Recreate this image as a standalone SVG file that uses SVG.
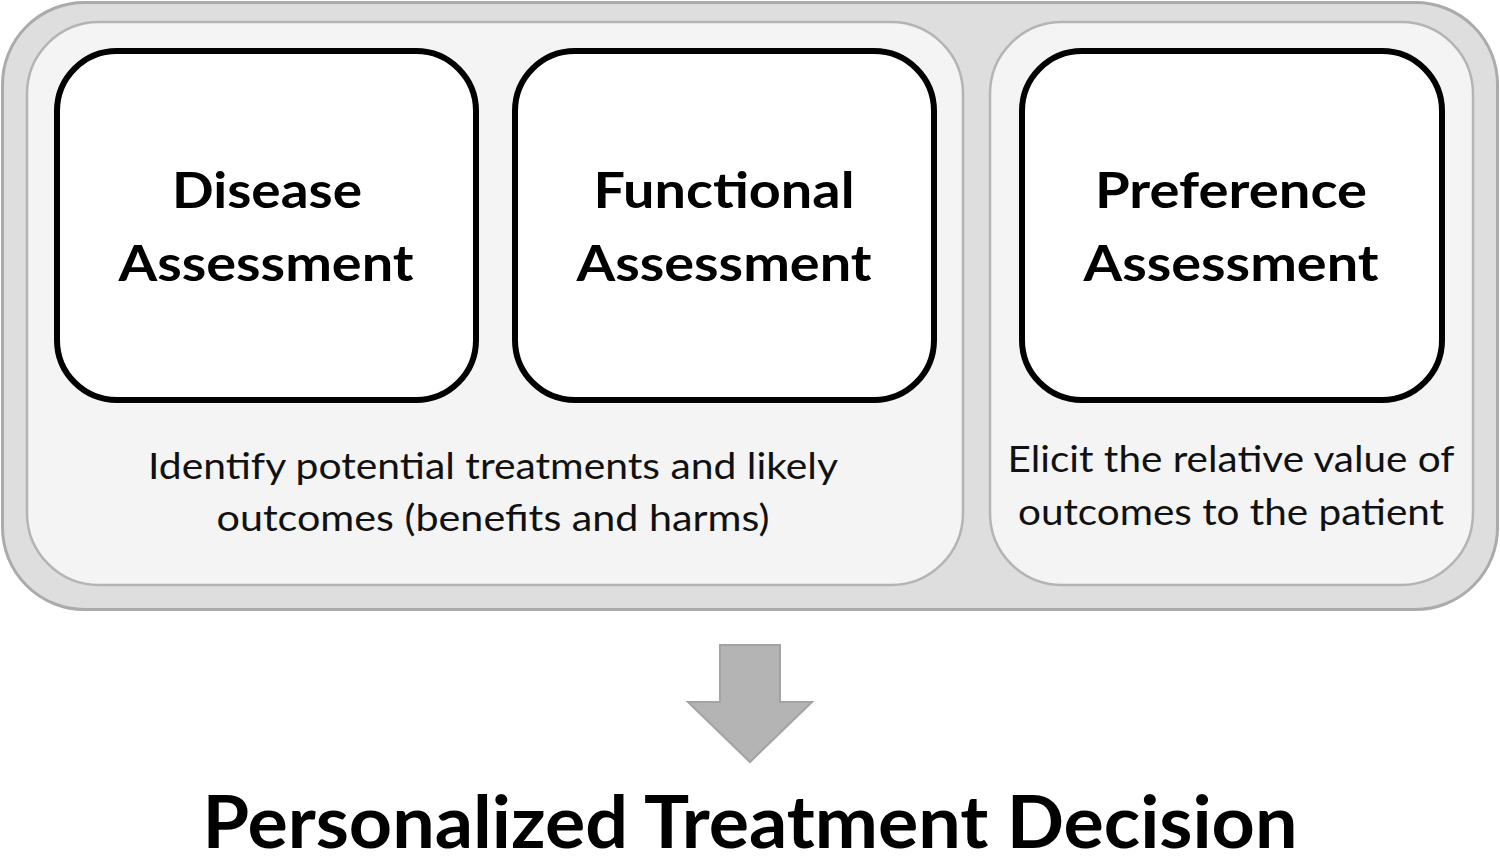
<svg xmlns="http://www.w3.org/2000/svg" width="1500" height="863" viewBox="0 0 1500 863">
<style>
.outer{fill:#dedede;stroke:#ababab;stroke-width:3}
.panel{fill:#f4f4f4;stroke:#b4b4b4;stroke-width:2.5}
.box{fill:#ffffff;stroke:#000;stroke-width:6}
.h{font-family:Lato,"Liberation Sans",sans-serif;font-weight:bold;font-size:50px;fill:#000;text-anchor:middle}
.d{font-family:Lato,"Liberation Sans",sans-serif;font-size:36px;fill:#111;text-anchor:middle}
.t{font-family:Lato,"Liberation Sans",sans-serif;font-weight:bold;font-size:72px;fill:#000;text-anchor:middle}
</style>
<rect width="1500" height="863" fill="#ffffff"/>
<g id="container">
<rect class="outer" x="2.5" y="2.5" width="1495" height="607" rx="82" ry="82"/>
<rect class="panel" x="27" y="22" width="936" height="563" rx="72" ry="72"/>
<rect class="panel" x="990" y="22" width="483" height="563" rx="72" ry="72"/>
</g>
<g id="disease">
<rect class="box" x="57" y="51" width="419" height="349" rx="60" ry="60"/>
<text class="h" x="267" y="208" textLength="190" lengthAdjust="spacingAndGlyphs">Disease</text>
<text class="h" x="266" y="281" textLength="295" lengthAdjust="spacingAndGlyphs">Assessment</text>
</g>
<g id="functional">
<rect class="box" x="515" y="51" width="419" height="349" rx="60" ry="60"/>
<text class="h" x="724" y="208" textLength="261" lengthAdjust="spacingAndGlyphs">Functional</text>
<text class="h" x="724" y="281" textLength="295" lengthAdjust="spacingAndGlyphs">Assessment</text>
</g>
<g id="preference">
<rect class="box" x="1022" y="51" width="420" height="349" rx="60" ry="60"/>
<text class="h" x="1231" y="208" textLength="272" lengthAdjust="spacingAndGlyphs">Preference</text>
<text class="h" x="1231" y="281" textLength="295" lengthAdjust="spacingAndGlyphs">Assessment</text>
</g>
<g id="desc-left">
<text class="d" x="493" y="479" textLength="690" lengthAdjust="spacingAndGlyphs">Identify potential treatments and likely</text>
<text class="d" x="493" y="531" textLength="553" lengthAdjust="spacingAndGlyphs">outcomes (benefits and harms)</text>
</g>
<g id="desc-right">
<text class="d" x="1231" y="472" textLength="447" lengthAdjust="spacingAndGlyphs">Elicit the relative value of</text>
<text class="d" x="1231" y="525" textLength="426" lengthAdjust="spacingAndGlyphs">outcomes to the patient</text>
</g>
<g id="connectors">
<polygon points="720,645 780,645 780,702 812,702 750,762 688,702 720,702" fill="#b4b4b4" stroke="#a3a3a3" stroke-width="2"/>
</g>
<g id="decision">
<text class="t" x="750" y="848" textLength="1095" lengthAdjust="spacingAndGlyphs">Personalized Treatment Decision</text>
</g>
</svg>
